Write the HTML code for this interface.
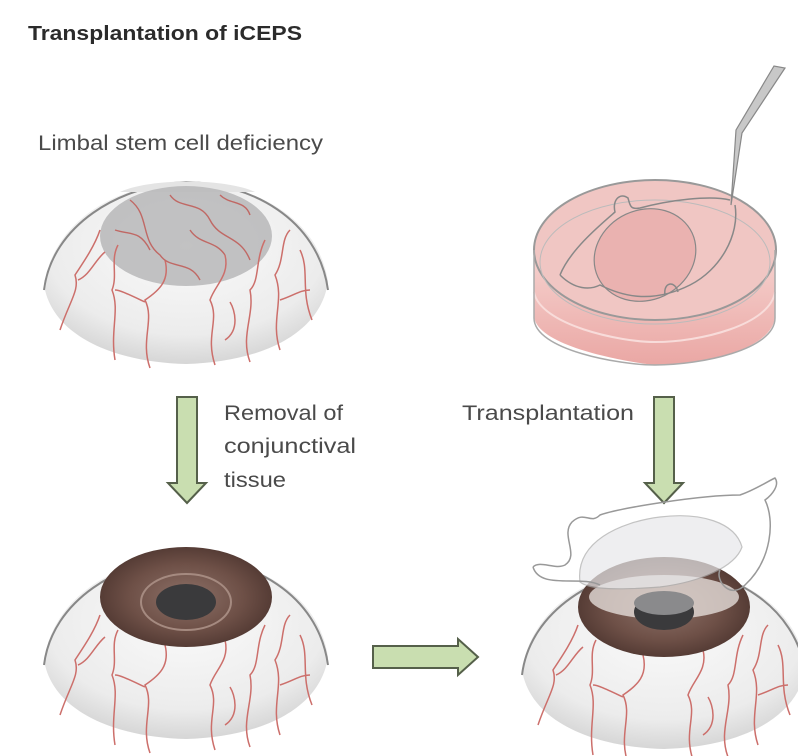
<!DOCTYPE html>
<html><head><meta charset="utf-8"><style>
html,body{margin:0;padding:0;background:#fff;}
svg{display:block}
text{font-family:"Liberation Sans",sans-serif;fill:#4a4a4a}
</style></head><body>
<svg width="798" height="756" viewBox="0 0 798 756" xmlns="http://www.w3.org/2000/svg">
<defs>
<radialGradient id="sclera" cx="0.5" cy="0.35" r="0.7">
<stop offset="0" stop-color="#fafafa"/><stop offset="0.7" stop-color="#ececec"/><stop offset="1" stop-color="#cfcfcf"/>
</radialGradient>
<radialGradient id="iris" cx="0.5" cy="0.5" r="0.55">
<stop offset="0" stop-color="#8d7168"/><stop offset="0.6" stop-color="#6e5047"/><stop offset="1" stop-color="#4e3630"/>
</radialGradient>
<linearGradient id="pink" x1="0" y1="0" x2="0" y2="1">
<stop offset="0" stop-color="#f6d3d0"/><stop offset="1" stop-color="#eaa7a4"/>
</linearGradient>
<g id="vessels" fill="none" stroke="#cc6f6b" stroke-width="1.5">
<path d="M60,340 C70,310 80,300 75,285 C85,270 95,255 100,240"/>
<path d="M78,290 C90,285 95,270 105,262"/>
<path d="M115,370 C110,340 120,320 112,300 C118,285 110,270 118,255"/>
<path d="M150,378 C140,350 155,330 145,310 C160,300 170,290 165,270"/>
<path d="M145,312 C130,305 120,300 115,300"/>
<path d="M215,375 C205,345 220,330 210,310 C215,295 230,285 225,265"/>
<path d="M225,350 C240,340 235,320 230,312"/>
<path d="M250,372 C240,345 255,325 250,300 C260,290 255,270 265,250"/>
<path d="M280,360 C270,330 285,310 275,285 C285,270 280,250 290,240"/>
<path d="M280,310 C295,305 300,300 310,300"/>
<path d="M312,330 C300,300 310,280 300,260"/>
</g>
<g id="eyebase">
<path d="M44,285 C55,215 125,183 186,182 C250,183 318,215 328,282 C320,335 260,362 186,364 C112,362 52,335 44,285 Z" fill="url(#sclera)"/>
<path d="M44,290 C52,225 120,185 186,182 C250,183 318,218 328,290" fill="none" stroke="#888" stroke-width="2"/>
<path d="M120,192 C150,178 225,178 255,192" fill="#e4e4e4" stroke="none"/>
</g>
<g id="downArrow">
<path d="M-10,0 H10 V86 H19 L0,106 L-19,86 H-10 Z" fill="#c9deb0" stroke="#55604a" stroke-width="2"/>
</g>
</defs>

<text x="28" y="40" font-size="20" font-weight="bold" textLength="274" lengthAdjust="spacingAndGlyphs" style="fill:#2b2b2b">Transplantation of iCEPS</text>
<text x="38" y="150" font-size="21" textLength="285" lengthAdjust="spacingAndGlyphs">Limbal stem cell deficiency</text>

<!-- Eye 1 -->
<use href="#eyebase"/>
<ellipse cx="186" cy="236" rx="86" ry="50" fill="#b7b7b9" opacity="0.85"/>
<use href="#vessels" transform="translate(0,-10)"/>
<g fill="none" stroke="#c06864" stroke-width="1.4">
<path d="M130,200 C150,215 140,240 160,255 C170,270 190,260 200,280"/>
<path d="M170,195 C180,210 200,200 210,220 C220,240 240,235 250,260"/>
<path d="M220,195 C230,205 245,200 250,215"/>
<path d="M115,230 C130,235 140,230 150,250"/>
<path d="M190,230 C200,245 215,240 225,255"/>
</g>

<!-- Dish -->
<path d="M534,250 V315 C534,350 650,365 655,365 C700,365 775,350 775,315 V250 Z" fill="url(#pink)"/>
<ellipse cx="655" cy="250" rx="121" ry="70" fill="#f0c6c3"/>
<path d="M534,292 C540,325 620,342 655,342 C700,342 770,325 775,292" fill="none" stroke="#f8dcda" stroke-width="2"/>
<ellipse cx="655" cy="250" rx="121" ry="70" fill="none" stroke="#999" stroke-width="2"/>
<ellipse cx="655" cy="262" rx="115" ry="62" fill="none" stroke="#bbb" stroke-width="1"/>
<path d="M534,250 V318 C534,350 620,365 655,365 C700,365 775,350 775,318 V250" fill="none" stroke="#aaa" stroke-width="1.5"/>
<ellipse cx="645" cy="255" rx="52" ry="45" fill="#eab2b0" stroke="#888" stroke-width="1.2" transform="rotate(-25 645 255)"/>
<path d="M560,275 C575,290 590,290 600,285 C620,295 650,305 690,285 C720,270 740,235 735,205 M560,275 C570,250 600,225 615,212 C612,200 620,192 628,198 C630,205 630,210 640,208 C670,200 710,195 730,200" fill="none" stroke="#888" stroke-width="1.5"/>
<path d="M665,295 C663,282 675,280 678,292" fill="none" stroke="#888" stroke-width="1.5"/>
<path d="M731,205 L742,133 L785,68 L774,66 L736,130 Z" fill="#c8c8c8" stroke="#888" stroke-width="1.2"/>

<!-- Arrows -->
<use href="#downArrow" transform="translate(187,397)"/>
<use href="#downArrow" transform="translate(664,397)"/>
<path d="M373,646 H458 V639 L478,657 L458,675 V668 H373 Z" fill="#c9deb0" stroke="#55604a" stroke-width="2"/>

<text font-size="21"><tspan x="224" y="420" textLength="119" lengthAdjust="spacingAndGlyphs">Removal of</tspan></text>
<text font-size="21"><tspan x="224" y="453" textLength="132" lengthAdjust="spacingAndGlyphs">conjunctival</tspan></text>
<text font-size="21"><tspan x="224" y="487" textLength="62" lengthAdjust="spacingAndGlyphs">tissue</tspan></text>
<text x="462" y="420" font-size="21" textLength="172" lengthAdjust="spacingAndGlyphs">Transplantation</text>

<!-- Eye 3 -->
<g transform="translate(0,375)">
<use href="#eyebase"/>
<use href="#vessels"/>
<ellipse cx="186" cy="222" rx="86" ry="50" fill="url(#iris)"/>
<ellipse cx="186" cy="227" rx="45" ry="28" fill="none" stroke="#a58a80" stroke-width="2"/>
<ellipse cx="186" cy="227" rx="30" ry="18" fill="#3a3a3c"/>
</g>

<!-- Eye 4 -->
<g transform="translate(478,385)">
<use href="#eyebase"/>
<use href="#vessels"/>
<ellipse cx="186" cy="222" rx="86" ry="50" fill="url(#iris)"/>
<ellipse cx="186" cy="212" rx="75" ry="22" fill="#e4dcd8" opacity="0.8"/>
<ellipse cx="186" cy="227" rx="30" ry="18" fill="#3a3a3c"/>
<ellipse cx="186" cy="218" rx="30" ry="12" fill="#8a8a8c"/>
</g>
<g transform="translate(0,22)">
<path d="M580,560 C575,520 620,500 660,495 C700,490 735,500 742,525 C735,545 700,560 660,565 C620,568 590,568 580,560 Z" fill="#e8e8ea" opacity="0.7" stroke="#aaa" stroke-width="1.2"/>
</g>
<path d="M533,567 C540,560 555,570 565,565 C580,555 560,535 572,522 C585,510 590,525 600,515 C620,508 700,495 740,495 C755,490 770,480 775,478 C780,485 772,495 765,500 C775,520 772,560 745,585 C730,600 715,580 720,570" fill="none" stroke="#999" stroke-width="1.5"/>
<path d="M533,567 C540,590 580,575 600,585" fill="none" stroke="#999" stroke-width="1.5"/>
</svg>
</body></html>
